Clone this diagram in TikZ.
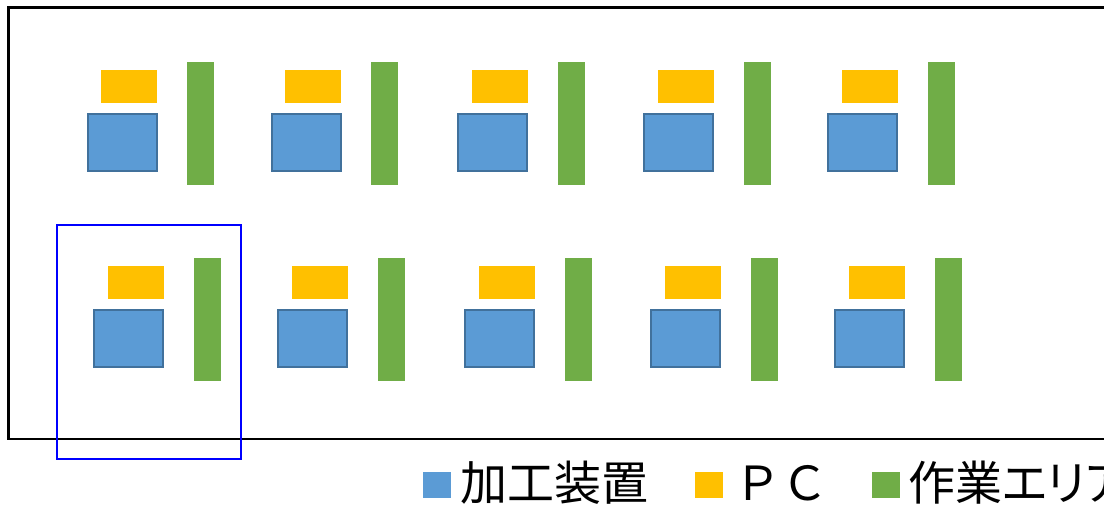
\documentclass[tikz,border=0pt]{standalone}
\usepackage{fontspec}
\newfontfamily\jpfont{Noto Sans CJK JP}
\newfontfamily\jppalt[RawFeature=+palt]{Noto Sans CJK JP}
\definecolor{devblue}{HTML}{5B9BD5}
\definecolor{devborder}{HTML}{41719C}
\definecolor{pcorange}{HTML}{FFC000}
\definecolor{workgreen}{HTML}{70AD47}
\begin{document}
\begin{tikzpicture}[x=1pt,y=-1pt,
  box/.style={inner sep=0pt,outer sep=0pt,anchor=north west},
  device/.style={box,draw=devborder,fill=devblue,line width=2pt,minimum width=69pt,minimum height=57pt},
  pc/.style={box,fill=pcorange,minimum width=56pt,minimum height=33pt},
  work/.style={box,fill=workgreen,minimum width=27pt,minimum height=123pt},
  legendsq/.style={box,minimum width=28pt,minimum height=26pt},
  legendtext/.style={font=\jpfont\fontsize{47}{50}\selectfont,inner sep=0pt,outer sep=0pt,anchor=base west}
]
\useasboundingbox (0,0) rectangle (1104,506);
\clip (0,0) rectangle (1104,506);
% room outline (right edge runs past the picture)
\node[box,draw=black,line width=2.5pt,minimum width=1120pt,minimum height=431.5pt] (room) at (8.7,7.5) {};
% top row
\foreach \i/\p/\d/\w in {1/101/88/187,2/285/272/371,3/472/458/558,4/658/644/744,5/842/828/928}{
  \node[pc] (pcT\i) at (\p,70) {};
  \node[device] (devT\i) at (\d,114) {};
  \node[work] (workT\i) at (\w,62) {};
}
% bottom row
\foreach \i/\p/\d/\w in {1/108/94/194,2/292/278/378,3/479/465/565,4/665/651/751,5/849/835/935}{
  \node[pc] (pcB\i) at (\p,266) {};
  \node[device] (devB\i) at (\d,310) {};
  \node[work] (workB\i) at (\w,258) {};
}
% highlighted unit
\node[box,draw=blue,line width=2pt,minimum width=184pt,minimum height=234pt] (unit) at (56.5,225.3) {};
% legend
\node[legendsq,fill=devblue] (lgdev) at (423,472) {};
\node[legendtext] (lgdevtxt) at (460,500) {加工装置};
\node[legendsq,fill=pcorange] (lgpc) at (695,472) {};
\node[legendtext] (lgpctxt) at (734,500) {ＰＣ};
\node[legendsq,fill=workgreen] (lgwork) at (872,472) {};
\node[legendtext,font=\jppalt\fontsize{47}{50}\selectfont] (lgworktxt) at (908,500) {作業エリア};
\end{tikzpicture}
\end{document}
